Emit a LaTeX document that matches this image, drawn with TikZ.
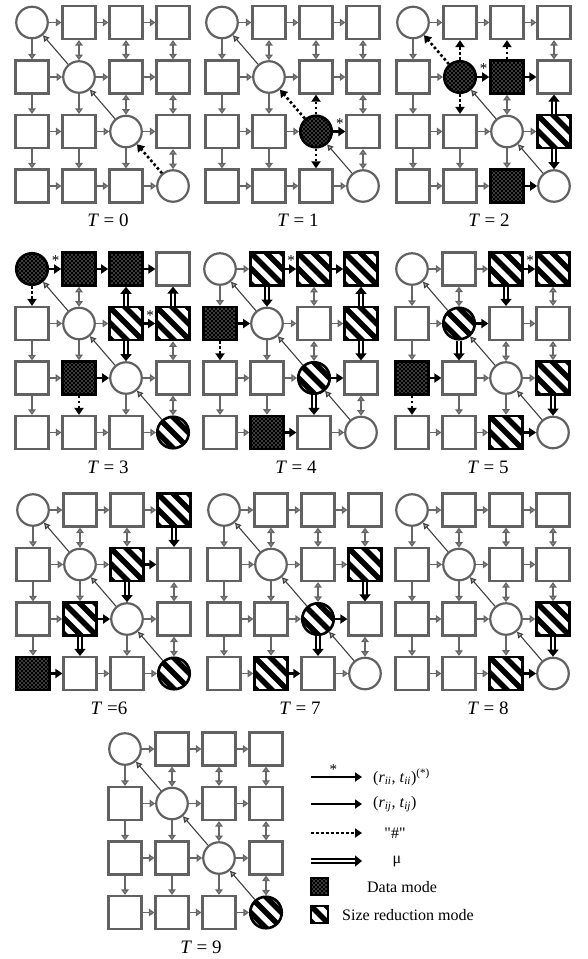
\documentclass[tikz,border=0pt]{standalone}
\usepackage{fontspec}
\setmainfont{Liberation Serif}
\usetikzlibrary{arrows.meta,patterns}

% puntos blancos sobre negro
\pgfdeclarepatternformonly{datadots}{\pgfqpoint{-1pt}{-1pt}}{\pgfqpoint{5pt}{5pt}}{\pgfqpoint{4pt}{4pt}}{%
  \pgfpathcircle{\pgfqpoint{0pt}{0pt}}{0.6pt}%
  \pgfpathcircle{\pgfqpoint{2pt}{2pt}}{0.6pt}%
  \pgfusepath{fill}}

\tikzset{
  box/.style={rectangle, minimum size=33pt, inner sep=0pt},
  pe/.style={circle, minimum size=31.5pt, inner sep=0pt},
  idle/.style={draw=black!62, line width=2.2pt, fill=white},
  data/.style={draw=black, line width=2.6pt, preaction={fill=black},
    pattern=datadots, pattern color=white},
  stripe/.style={draw=black, line width=2.6pt, fill=white, path picture={
    \foreach \q in {-4,...,4}
      \draw[line width=5.5pt] ([shift={(\q*15.5-40,-40)}]path picture bounding box.center) -- ++(80,80);
  }},
  link/.style={draw=black!60, line width=1.4pt,
    -{Triangle[length=5.5pt,width=7.5pt,fill=black!35]}},
  link2/.style={draw=black!60, line width=1.4pt,
    {Triangle[length=5.5pt,width=7.5pt,fill=black!35]}-{Triangle[length=5.5pt,width=7.5pt,fill=black!35]}},
  diag/.style={draw=black!75, line width=1.1pt,
    -{Triangle[length=6pt,width=6.5pt,fill=black!35]}},
  hot/.style={line width=2.6pt, -{Triangle[length=7pt,width=9pt]}},
  dots/.style={line width=2.6pt, dash pattern=on 2.6pt off 2.4pt, -{Triangle[length=7pt,width=9pt]}},
  mu/.style={double, line width=1.6pt, double distance=2.2pt, -{Triangle[length=7pt,width=11pt]}},
  starmark/.style={font=\fontsize{15}{15}\selectfont, inner sep=0pt},
  tlabel/.style={font=\fontsize{19}{21}\selectfont, inner sep=0pt},
  keytext/.style={font=\fontsize{16}{18}\selectfont, inner sep=0pt}
}

% enlaces que no se dibujan en gris
\newcommand\skiplinks[2]{\foreach \lk in {#2}{\expandafter\gdef\csname skip-#1-\lk\endcsname{}}}
% modo de cada celda activa
\newcommand\setmodes[2]{\foreach \cl/\md in {#2}{\expandafter\xdef\csname mode-#1-\cl\endcsname{\md}}}

% una malla 4x4: nombre, x, y, rótulo
\newcommand\drawpanel[4]{%
  \begin{scope}[shift={(#2,#3)}]
    \foreach \i in {0,...,3}{
      \foreach \j in {0,...,3}{
        \ifnum\i=\j \def\cellshape{pe}\else \def\cellshape{box}\fi
        \ifcsname mode-#1-\i\j\endcsname
          \edef\cellmode{\csname mode-#1-\i\j\endcsname}%
        \else \def\cellmode{idle}\fi
        \edef\makecell{\noexpand\node[\cellshape,\cellmode] (#1-\i-\j) at (\j*47,\i*54.5) {};}%
        \makecell
      }
    }
    % filas
    \foreach \i in {0,...,3}{
      \foreach \j in {0,1,2}{
        \pgfmathtruncatemacro\k{\j+1}
        \ifcsname skip-#1-h\i\j\endcsname\else
          \draw[link] (#1-\i-\j) -- (#1-\i-\k);
        \fi
      }
    }
    % columnas
    \foreach \i in {0,1,2}{
      \foreach \j in {0,...,3}{
        \pgfmathtruncatemacro\k{\i+1}
        \ifcsname skip-#1-v\i\j\endcsname\else
          \ifnum\j>\i
            \draw[link2] (#1-\i-\j) -- (#1-\k-\j);
          \else
            \draw[link] (#1-\i-\j) -- (#1-\k-\j);
          \fi
        \fi
      }
    }
    % diagonal
    \foreach \i in {1,2,3}{
      \pgfmathtruncatemacro\k{\i-1}
      \ifcsname skip-#1-d\i\endcsname\else
        \draw[diag] (#1-\i-\i) -- (#1-\k-\k);
      \fi
    }
    \node[tlabel] (#1-lab) at (76,198) {#4};
  \end{scope}
}

\begin{document}
\begin{tikzpicture}[x=1pt, y=-1pt]
  \useasboundingbox (0,0) rectangle (587,959);

  % T = 0
  \skiplinks{T0}{d3}
  \drawpanel{T0}{32}{22.5}{\textit{T} = 0}
  \draw[dots] (T0-3-3) -- (T0-2-2);

  % T = 1
  \setmodes{T1}{22/data}
  \skiplinks{T1}{h22,v12,v22,d2}
  \drawpanel{T1}{222}{22.5}{\textit{T} = 1}
  \draw[hot] (T1-2-2) -- node[starmark, pos=0.55, above=2pt] {*} (T1-2-3);
  \draw[dots] (T1-2-2) -- (T1-1-2);
  \draw[dots] (T1-2-2) -- (T1-3-2);
  \draw[dots] (T1-2-2) -- (T1-1-1);

  % T = 2
  \setmodes{T2}{11/data,12/data,23/stripe,32/data}
  \skiplinks{T2}{v01,d1,v11,h11,v02,h12,v13,v23,h32}
  \drawpanel{T2}{413}{22.5}{\textit{T} = 2}
  \draw[dots] (T2-1-1) -- (T2-0-1);
  \draw[dots] (T2-1-1) -- (T2-0-0);
  \draw[dots] (T2-1-1) -- (T2-2-1);
  \draw[hot] (T2-1-1) -- node[starmark, pos=0.55, above=2pt] {*} (T2-1-2);
  \draw[dots] (T2-1-2) -- (T2-0-2);
  \draw[hot] (T2-1-2) -- (T2-1-3);
  \draw[mu] (T2-2-3) -- (T2-1-3);
  \draw[mu] (T2-2-3) -- (T2-3-3);
  \draw[hot] (T2-3-2) -- (T2-3-3);

  % T = 3
  \setmodes{T3}{00/data,01/data,02/data,12/stripe,13/stripe,21/data,33/stripe}
  \skiplinks{T3}{h00,v00,h01,h02,v02,h12,v12,v03,h21,v21}
  \drawpanel{T3}{32}{269}{\textit{T} = 3}
  \draw[hot] (T3-0-0) -- node[starmark, pos=0.55, above=2pt] {*} (T3-0-1);
  \draw[dots] (T3-0-0) -- (T3-1-0);
  \draw[hot] (T3-0-1) -- (T3-0-2);
  \draw[hot] (T3-0-2) -- (T3-0-3);
  \draw[mu] (T3-1-2) -- (T3-0-2);
  \draw[hot] (T3-1-2) -- node[starmark, pos=0.55, above=2pt] {*} (T3-1-3);
  \draw[mu] (T3-1-2) -- (T3-2-2);
  \draw[mu] (T3-1-3) -- (T3-0-3);
  \draw[hot] (T3-2-1) -- (T3-2-2);
  \draw[dots] (T3-2-1) -- (T3-3-1);

  % T = 4
  \setmodes{T4}{01/stripe,02/stripe,03/stripe,10/data,13/stripe,22/stripe,31/data}
  \skiplinks{T4}{h01,v01,h02,v03,v13,h10,v10,h22,v22,h31}
  \drawpanel{T4}{220}{269}{\textit{T} = 4}
  \draw[hot] (T4-0-1) -- node[starmark, pos=0.55, above=2pt] {*} (T4-0-2);
  \draw[mu] (T4-0-1) -- (T4-1-1);
  \draw[hot] (T4-0-2) -- (T4-0-3);
  \draw[mu] (T4-1-3) -- (T4-0-3);
  \draw[mu] (T4-1-3) -- (T4-2-3);
  \draw[hot] (T4-1-0) -- (T4-1-1);
  \draw[dots] (T4-1-0) -- (T4-2-0);
  \draw[hot] (T4-2-2) -- (T4-2-3);
  \draw[mu] (T4-2-2) -- (T4-3-2);
  \draw[hot] (T4-3-1) -- (T4-3-2);

  % T = 5
  \setmodes{T5}{02/stripe,03/stripe,11/stripe,20/data,23/stripe,32/stripe}
  \skiplinks{T5}{h02,v02,h11,v11,h20,v20,v23,h32}
  \drawpanel{T5}{412}{269}{\textit{T} = 5}
  \draw[hot] (T5-0-2) -- node[starmark, pos=0.55, above=2pt] {*} (T5-0-3);
  \draw[mu] (T5-0-2) -- (T5-1-2);
  \draw[hot] (T5-1-1) -- (T5-1-2);
  \draw[mu] (T5-1-1) -- (T5-2-1);
  \draw[hot] (T5-2-0) -- (T5-2-1);
  \draw[dots] (T5-2-0) -- (T5-3-0);
  \draw[mu] (T5-2-3) -- (T5-3-3);
  \draw[hot] (T5-3-2) -- (T5-3-3);

  % T = 6
  \setmodes{T6}{03/stripe,12/stripe,21/stripe,30/data,33/stripe}
  \skiplinks{T6}{v03,h12,v12,h21,v21,h30}
  \drawpanel{T6}{33}{510}{\textit{T} =6}
  \draw[mu] (T6-0-3) -- (T6-1-3);
  \draw[hot] (T6-1-2) -- (T6-1-3);
  \draw[mu] (T6-1-2) -- (T6-2-2);
  \draw[hot] (T6-2-1) -- (T6-2-2);
  \draw[mu] (T6-2-1) -- (T6-3-1);
  \draw[hot] (T6-3-0) -- (T6-3-1);

  % T = 7
  \setmodes{T7}{13/stripe,22/stripe,31/stripe}
  \skiplinks{T7}{v13,h22,v22,h31}
  \drawpanel{T7}{224}{510}{\textit{T} = 7}
  \draw[mu] (T7-1-3) -- (T7-2-3);
  \draw[hot] (T7-2-2) -- (T7-2-3);
  \draw[mu] (T7-2-2) -- (T7-3-2);
  \draw[hot] (T7-3-1) -- (T7-3-2);

  % T = 8
  \setmodes{T8}{23/stripe,32/stripe}
  \skiplinks{T8}{v23,h32}
  \drawpanel{T8}{412}{510}{\textit{T} = 8}
  \draw[mu] (T8-2-3) -- (T8-3-3);
  \draw[hot] (T8-3-2) -- (T8-3-3);

  % T = 9
  \setmodes{T9}{33/stripe}
  \drawpanel{T9}{125}{749}{\textit{T} = 9}

  % leyenda
  \coordinate (k1a) at (311,777); \coordinate (k1b) at (362,777);
  \coordinate (k2a) at (311,804); \coordinate (k2b) at (362,804);
  \coordinate (k3a) at (311,833); \coordinate (k3b) at (362,833);
  \coordinate (k4a) at (311,861); \coordinate (k4b) at (362,861);
  \draw[hot] (k1a) -- node[starmark, pos=0.44, above=1pt] {*} (k1b);
  \draw[hot] (k2a) -- (k2b);
  \draw[dots] (k3a) -- (k3b);
  \draw[mu] (k4a) -- (k4b);
  \node[keytext, anchor=west] (k1t) at (373,777)
    {(\textit{r}\textsubscript{\textit{ii}}, \textit{t}\textsubscript{\textit{ii}})\textsuperscript{(*)}};
  \node[keytext, anchor=west] (k2t) at (373,804)
    {(\textit{r}\textsubscript{\textit{ij}}, \textit{t}\textsubscript{\textit{ij}})};
  \node[keytext] (k3t) at (395,833) {\textquotedbl\#\textquotedbl};
  \node[keytext] (k4t) at (397,862) {μ};
  \node[box, data, minimum size=17pt] (kdata) at (319.5,886.5) {};
  \node[box, stripe, minimum size=17pt] (kstripe) at (319.5,914.5) {};
  \node[keytext] (kdatat) at (402,887) {Data mode};
  \node[keytext, anchor=west] (kstripet) at (342,915) {Size reduction mode};

\end{tikzpicture}
\end{document}
